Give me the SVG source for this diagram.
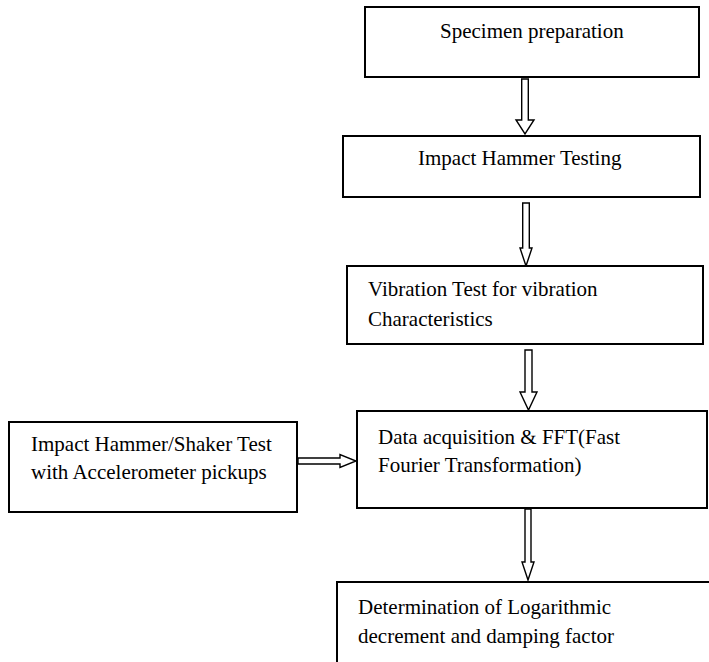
<svg xmlns="http://www.w3.org/2000/svg" width="709" height="662" viewBox="0 0 709 662">
<style>
.box{fill:#fff;stroke:#000;stroke-width:2}
.arr{fill:#fff;stroke:#000;stroke-width:1.4;stroke-linejoin:miter}
text{font-family:"Liberation Serif","Times New Roman",serif;font-size:21px;fill:#000}
</style>
<rect width="709" height="662" fill="#fff"/>
<g id="connectors">
<path class="arr" d="M521.7,79 V120 H516 L525,134 L534,120 H528.3 V79 Z"/>
<path class="arr" d="M522.7,203 V248 H520 L526,266 L532,248 H529.3 V203 Z"/>
<path class="arr" d="M525,350 V392 H520 L528.5,410 L537,392 H532 V350 Z"/>
<path class="arr" d="M525,509 V562 H522 L528,580 L534,562 H531 V509 Z"/>
<path class="arr" d="M298,458 H340 V454.5 L356,461 L340,467.5 V464 H298 Z"/>
</g>
<g id="n1">
<rect class="box" x="365" y="7" width="334" height="70"/>
<text x="440" y="38">Specimen preparation</text>
</g>
<g id="n2">
<rect class="box" x="343" y="136" width="357" height="61"/>
<text x="418" y="165">Impact Hammer Testing</text>
</g>
<g id="n3">
<rect class="box" x="347" y="266" width="356" height="78"/>
<text x="368" y="296">Vibration Test for vibration</text>
<text x="368" y="326">Characteristics</text>
</g>
<g id="n4">
<rect class="box" x="357" y="411" width="350" height="97"/>
<text x="378" y="444">Data acquisition &amp; FFT(Fast</text>
<text x="378" y="472">Fourier Transformation)</text>
</g>
<g id="n5">
<rect class="box" x="9" y="422" width="288" height="90"/>
<text x="31" y="451">Impact Hammer/Shaker Test</text>
<text x="31" y="479">with Accelerometer pickups</text>
</g>
<g id="n6">
<rect class="box" x="337" y="582" width="390" height="100"/>
<text x="358" y="614">Determination of Logarithmic</text>
<text x="358" y="643">decrement and damping factor</text>
</g>
</svg>
